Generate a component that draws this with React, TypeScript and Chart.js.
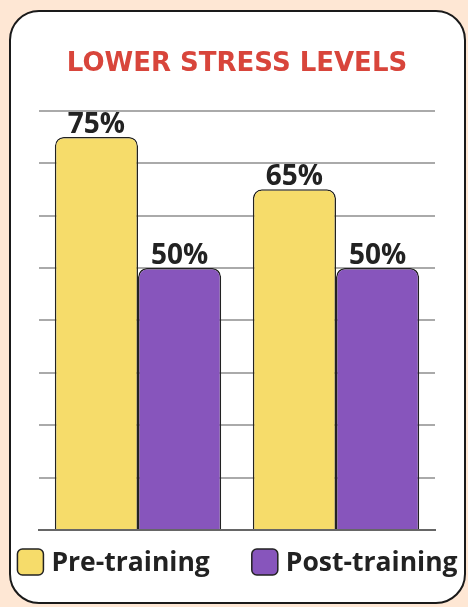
import React, { useEffect, useRef } from "react";
import { Chart, registerables } from "chart.js";

Chart.register(...registerables);

const categories = ["Group A", "Group B"];
const preTraining = [75, 65];
const postTraining = [50, 50];
const seriesNames = ["Pre-training", "Post-training"];
const seriesColors = ["#f6dc6a", "#8755bc"];
const yMax = 80;
const yStep = 10;

const FONT = "'Open Sans', 'DejaVu Sans', sans-serif";
const TITLE_FONT = "'DejaVu Sans', 'Open Sans', sans-serif";

const valueLabels = {
  id: "valueLabels",
  afterDatasetsDraw(chart: any) {
    const ctx = chart.ctx;
    ctx.save();
    ctx.font = `bold 28px ${FONT}`;
    ctx.fillStyle = "#222222";
    ctx.textAlign = "center";
    ctx.textBaseline = "alphabetic";
    chart.data.datasets.forEach((ds: any, i: number) => {
      const meta = chart.getDatasetMeta(i);
      meta.data.forEach((el: any, j: number) => {
        ctx.fillText(`${ds.data[j]}%`, el.x, el.y - 4);
      });
    });
    ctx.restore();
  },
};

const customLegend = {
  id: "customLegend",
  afterDraw(chart: any) {
    const ctx = chart.ctx;
    const items = chart.legend ? chart.legend.legendItems : [];
    const box = 26;
    const gapText = 8;
    const gapItem = 42;
    ctx.save();
    ctx.font = `bold 26.5px ${FONT}`;
    const widths = items.map((it: any) => box + gapText + ctx.measureText(it.text).width);
    const total = widths.reduce((a: number, b: number) => a + b, 0) + gapItem * (items.length - 1);
    let x = (chart.width - total) / 2;
    const top = chart.chartArea.bottom + 19;
    items.forEach((it: any, i: number) => {
      ctx.beginPath();
      ctx.roundRect(x, top, box, box, 5);
      ctx.fillStyle = it.fillStyle;
      ctx.fill();
      ctx.lineWidth = 1.5;
      ctx.strokeStyle = "#222222";
      ctx.stroke();
      ctx.fillStyle = "#222222";
      ctx.textAlign = "left";
      ctx.textBaseline = "middle";
      ctx.fillText(it.text, x + box + gapText, top + box / 2 + 1);
      x += widths[i] + gapItem;
    });
    ctx.restore();
  },
};

export default function App() {
  const ref = useRef<HTMLCanvasElement | null>(null);
  useEffect(() => {
    if (!ref.current) return;
    const chart = new Chart(ref.current, {
      type: "bar",
      data: {
        labels: categories,
        datasets: [
          {
            label: seriesNames[0],
            data: preTraining,
            backgroundColor: seriesColors[0],
            borderColor: "#222222",
            borderWidth: 1.5,
            borderRadius: { topLeft: 9, topRight: 9, bottomLeft: 0, bottomRight: 0 },
            borderSkipped: "bottom",
          },
          {
            label: seriesNames[1],
            data: postTraining,
            backgroundColor: seriesColors[1],
            borderColor: "#222222",
            borderWidth: 1.5,
            borderRadius: { topLeft: 9, topRight: 9, bottomLeft: 0, bottomRight: 0 },
            borderSkipped: "bottom",
          },
        ],
      },
      options: {
        animation: false,
        responsive: false,
        maintainAspectRatio: false,
        layout: { padding: { left: 28, right: 29, top: 0, bottom: 72 } },
        datasets: { bar: { categoryPercentage: 0.84, barPercentage: 1.0 } },
        scales: {
          x: {
            ticks: { display: false },
            grid: { display: false, drawTicks: false },
            border: { display: true, color: "#666666", width: 2 },
          },
          y: {
            min: 0,
            max: yMax,
            ticks: { display: false, stepSize: yStep },
            grid: { color: "#aaaaaa", lineWidth: 2, drawTicks: false },
            border: { display: false },
          },
        },
        plugins: {
          title: {
            display: true,
            text: "LOWER STRESS LEVELS",
            color: "#d8453b",
            font: { family: TITLE_FONT, size: 26, weight: "bold" },
            padding: { top: 37, bottom: 30.5 },
          },
          legend: { display: false },
          tooltip: { enabled: false },
        },
      },
      plugins: [valueLabels, customLegend],
    });
    return () => chart.destroy();
  }, []);

  return (
    <div style={{ position: "fixed", left: 0, top: 0, width: 468, height: 607, background: "#fee7d4", overflow: "hidden" }}>
      <div
        style={{
          position: "absolute",
          left: 9,
          top: 10,
          width: 457,
          height: 594,
          boxSizing: "border-box",
          border: "2px solid #1a1a1a",
          borderRadius: 30,
          background: "#ffffff",
          overflow: "hidden",
        }}
      >
        <canvas ref={ref} width={453} height={590} style={{ display: "block", width: 453, height: 590 }} />
      </div>
    </div>
  );
}
